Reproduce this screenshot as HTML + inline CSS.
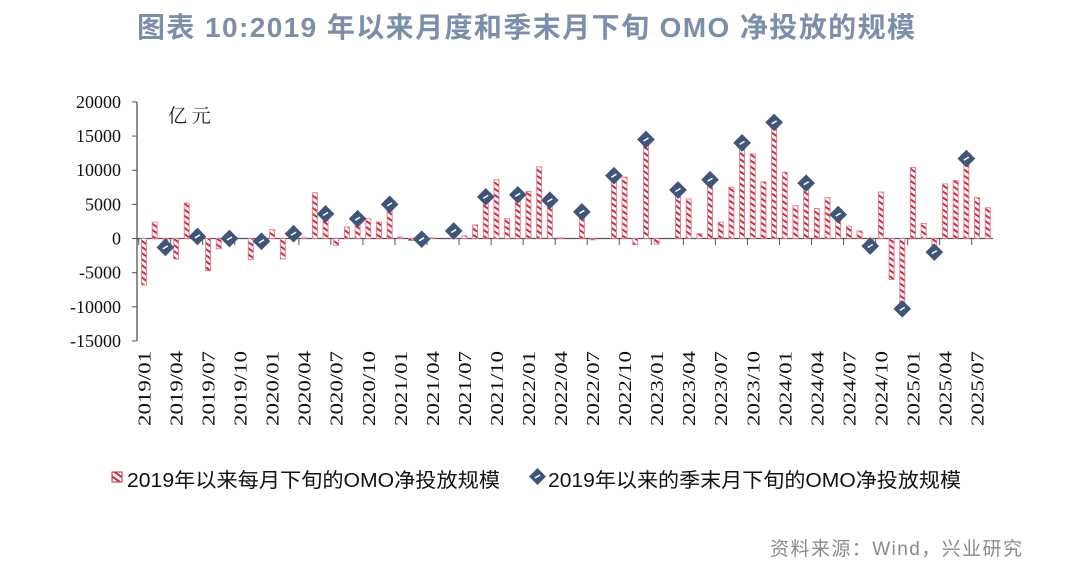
<!DOCTYPE html>
<html><head><meta charset="utf-8">
<style>
html,body{margin:0;padding:0;background:#fff;}
body{width:1080px;height:570px;overflow:hidden;position:relative;}
</style></head>
<body>
<svg id="c" width="1080" height="570" xmlns="http://www.w3.org/2000/svg">
<defs>
<pattern id="h" width="5" height="5" patternUnits="userSpaceOnUse" patternTransform="rotate(35)">
<rect width="5" height="5" fill="#fff"/>
<rect width="5" height="2" fill="#d0283f"/>
</pattern>
</defs>
<text x="526" y="37" text-anchor="middle" font-family="'Liberation Sans','Noto Sans CJK SC',sans-serif" font-size="28" font-weight="bold" fill="#7b8fab" textLength="778" lengthAdjust="spacing">图表 10:2019 年以来月度和季末月下旬 OMO 净投放的规模</text>
<text x="168" y="122" font-family="'Liberation Serif','Noto Serif CJK SC',serif" font-size="19" fill="#222">亿 元</text>
<g id="g"></g>
<g font-family="'Liberation Sans','Noto Sans CJK SC',sans-serif" font-size="20" fill="#111">
<rect x="112" y="472" width="10" height="10" fill="url(#h)" stroke="#d0283f" stroke-width="1"/>
<text x="127" y="487" textLength="373" lengthAdjust="spacingAndGlyphs">2019年以来每月下旬的OMO净投放规模</text>
<rect x="532" y="471" width="11" height="11" fill="#3f5579" stroke="#3f5579" transform="rotate(45 537.5 476.5)"/>
<line x1="535" y1="478" x2="540" y2="475" stroke="#fff" stroke-width="1.5"/>
<text x="548" y="487" textLength="413" lengthAdjust="spacingAndGlyphs">2019年以来的季末月下旬的OMO净投放规模</text>
</g>
<text x="1022" y="555" text-anchor="end" font-family="'Liberation Sans','Noto Sans CJK SC',sans-serif" font-size="19" fill="#8a8a8a" textLength="252" lengthAdjust="spacing">资料来源：Wind，兴业研究</text>
</svg>
<script>
var v=[-6800,2400,-1300,-3000,5200,300,-4700,-1500,0,0,-3100,-400,1300,-3000,700,100,6700,3600,-1000,1700,2900,2900,2400,5000,200,-300,-100,100,0,1100,400,2000,6100,8600,2900,6400,6900,10500,5600,100,0,3900,-200,0,9200,9000,-900,14500,-800,0,7100,5800,700,8600,2400,7500,14000,12400,8300,17000,9700,4800,8100,4400,6000,3500,1800,1100,-1100,6800,-6000,-10300,10400,2200,-1000,8000,8500,11700,6000,4500];
var dia={2:-1300,5:300,8:0,11:-400,14:700,17:3600,20:2900,23:5000,26:-100,29:1100,32:6100,35:6400,38:5600,41:3900,44:9200,47:14500,50:7100,53:8600,56:14000,59:17000,62:8100,65:3500,68:-1100,71:-10300,74:-2000,77:11700};
var s='',Y=function(val){return 238.5-val*0.006829;},X=function(i){return 144+i*10.68;};
var f="font-family=\"'Liberation Serif',serif\"";
s+='<line x1="137" y1="102" x2="137" y2="341" stroke="#555" stroke-width="1.3"/>';
for(var k=-15000;k<=20000;k+=5000){var y=Y(k);s+='<line x1="132" y1="'+y+'" x2="137" y2="'+y+'" stroke="#555"/>';s+='<text x="121" y="'+(y+6)+'" text-anchor="end" '+f+' font-size="18" fill="#111">'+k+'</text>';}
s+='<line x1="137" y1="238.5" x2="993" y2="238.5" stroke="#555" stroke-width="1.3"/>';
for(var i=0;i<80;i++){if(v[i]==0)continue;var x=X(i)-2.5,y1=Y(Math.max(v[i],0)),y2=Y(Math.min(v[i],0));s+='<rect x="'+x+'" y="'+y1+'" width="5" height="'+Math.max(y2-y1,0.8)+'" fill="url(#h)" stroke="#e07a88" stroke-width="0.9"/>';}
for(var j=0;j<=27;j++){var tx=X(3*j-0.5);if(tx<138)continue;if(tx>993)break;s+='<line x1="'+tx+'" y1="238.5" x2="'+tx+'" y2="245" stroke="#555"/>';}
for(var i=0;i<80;i+=3){var m=i%12+1,yy=2019+Math.floor(i/12);var lab=yy+'/'+(m<10?'0':'')+m;var x=X(i)+6.5;s+='<text transform="translate('+x+',426) rotate(-90)" '+f+' font-size="18" fill="#111" textLength="75" lengthAdjust="spacingAndGlyphs">'+lab+'</text>';}
for(var key in dia){var x=X(+key),y=Y(dia[key]);s+='<rect x="'+(x-5.5)+'" y="'+(y-5.5)+'" width="11" height="11" fill="#3f5579" stroke="#3f5579" stroke-width="1.5" transform="rotate(45 '+x+' '+y+')"/><line x1="'+(x-2.5)+'" y1="'+(y+1.5)+'" x2="'+(x+2.5)+'" y2="'+(y-1.5)+'" stroke="#fff" stroke-width="1.5"/>';}
document.getElementById('g').innerHTML=s;
</script>
</body></html>
